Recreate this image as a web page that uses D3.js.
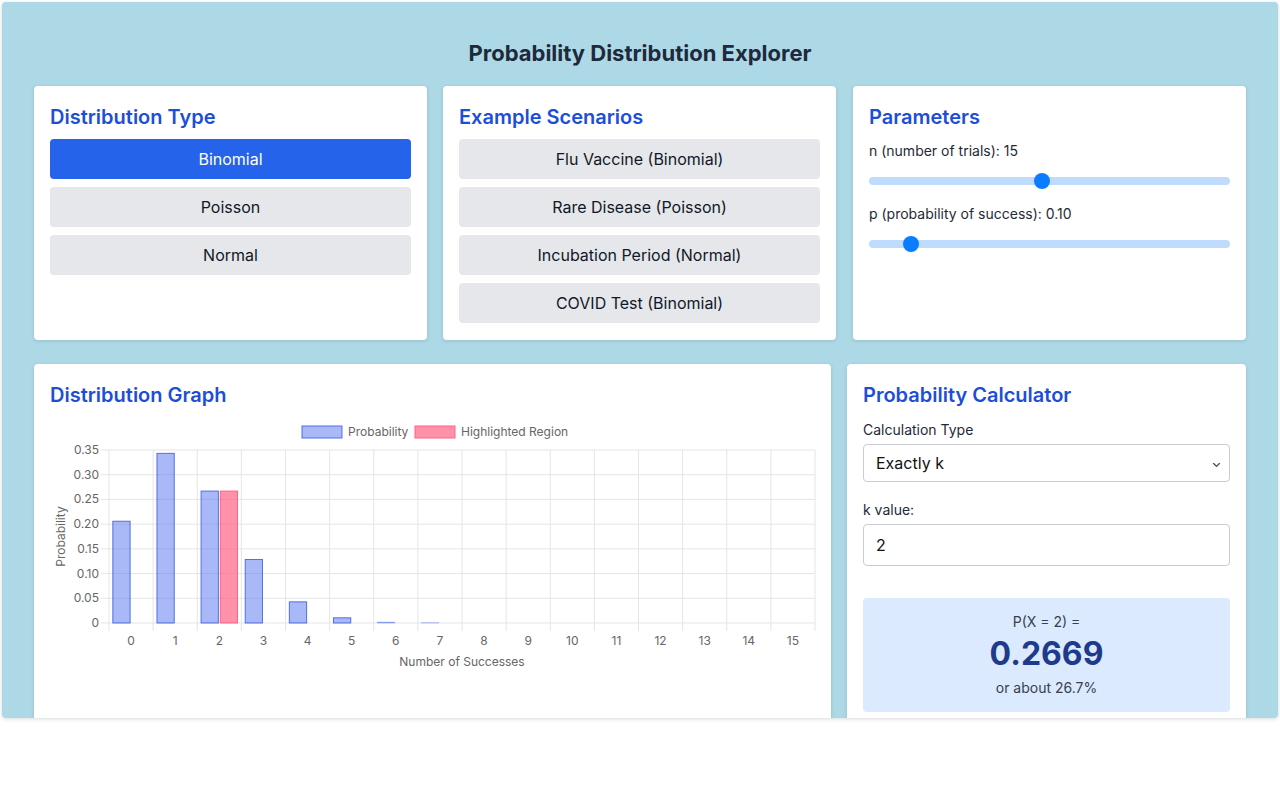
<!DOCTYPE html>
<html>
<head>
<meta charset="utf-8">
<script src="https://cdn.jsdelivr.net/npm/d3@7"></script>
<style>
  html, body { margin: 0; padding: 0; background: #fff; font-family: Inter, "Noto Sans", sans-serif; }
  .page { position: absolute; left: 2px; top: 2px; width: 1276px; height: 716px; background: #add8e6; overflow: hidden; border-radius: 4px; box-shadow: 0 1px 4px rgba(0,0,0,0.15); }
  h1 { position: absolute; left: 0; right: 0; top: 38px; margin: 0; text-align: center; font-size: 22px; font-weight: 700; color: #1e293b; }
  .card { position: absolute; background: #fff; border-radius: 4px; box-shadow: 0 1px 4px rgba(0,0,0,0.12); box-sizing: border-box; padding: 16px; }
  .card h2 { margin: 3px 0 10px; font-size: 20px; font-weight: 600; color: #1d4ed8; }
  .btn { height: 40px; line-height: 40px; text-align: center; background: #e5e7eb; border-radius: 4px; margin-bottom: 8px; font-size: 16px; color: #111827; }
  .btn.on { background: #2563eb; color: #fff; }
  .lbl { font-size: 14px; color: #1f2937; }
  .track { position: relative; height: 8px; background: #bfdbfe; border-radius: 4px; margin: 18px 0 20px; }
  .thumb { position: absolute; top: -4px; width: 16px; height: 16px; border-radius: 50%; background: #0a7cff; margin-left: -8px; }
  .field { height: 38px; border: 1px solid #c9ccd1; border-radius: 4px; box-sizing: border-box; padding: 0 12px; line-height: 36px; font-size: 16px; color: #111; position: relative; }
  .res { background: #dbeafe; border-radius: 4px; text-align: center; padding-top: 15px; height: 114px; box-sizing: border-box; }
</style>
</head>
<body>
<div class="page">
  <h1>Probability Distribution Explorer</h1>
  <div class="card" style="left:32px;top:84px;width:393px;height:254px">
    <h2>Distribution Type</h2>
    <div class="btn on">Binomial</div><div class="btn">Poisson</div><div class="btn">Normal</div>
  </div>
  <div class="card" style="left:441px;top:84px;width:393px;height:254px">
    <h2>Example Scenarios</h2>
    <div class="btn">Flu Vaccine (Binomial)</div><div class="btn">Rare Disease (Poisson)</div>
    <div class="btn">Incubation Period (Normal)</div><div class="btn">COVID Test (Binomial)</div>
  </div>
  <div class="card" style="left:851px;top:84px;width:393px;height:254px">
    <h2>Parameters</h2>
    <div class="lbl" style="margin-top:13px">n (number of trials): 15</div>
    <div class="track"><div class="thumb" style="left:48%"></div></div>
    <div class="lbl">p (probability of success): 0.10</div>
    <div class="track"><div class="thumb" style="left:11.5%"></div></div>
  </div>
  <div class="card" style="left:32px;top:362px;width:797px;height:400px">
    <h2>Distribution Graph</h2>
    <svg id="chart" width="770" height="270" style="position:absolute;left:16px;top:56px"></svg>
  </div>
  <div class="card" style="left:845px;top:362px;width:399px;height:400px">
    <h2>Probability Calculator</h2>
    <div class="lbl" style="margin:14px 0 6px">Calculation Type</div>
    <div class="field">Exactly k<span style="position:absolute;right:8px;top:0;font-size:12px">&#8964;</span></div>
    <div class="lbl" style="margin:19px 0 6px">k value:</div>
    <div class="field" style="height:42px;line-height:40px">2</div>
    <div style="height:32px"></div>
    <div class="res">
      <div style="font-size:14px;color:#374151">P(X = 2) =</div>
      <div style="font-size:32px;font-weight:700;color:#1e3a8a;margin:4px 0 6px">0.2669</div>
      <div style="font-size:14px;color:#374151">or about 26.7%</div>
    </div>
  </div>
</div>
<script>
const probs = [0.2059, 0.3432, 0.2669, 0.1285, 0.0428, 0.0105, 0.0019, 0.0003, 0, 0, 0, 0, 0, 0, 0, 0];
const highlight = [0, 0, 0.2669, 0, 0, 0, 0, 0, 0, 0, 0, 0, 0, 0, 0, 0];
const series = [
  {name: 'Probability', values: probs, fill: 'rgba(84,116,240,0.5)', stroke: 'rgba(70,100,225,0.9)'},
  {name: 'Highlighted Region', values: highlight, fill: 'rgba(255,99,132,0.7)', stroke: 'rgba(255,99,132,1)'},
];
const svg = d3.select('#chart');
const m = {left: 59, right: 5, top: 30, bottom: 67};
const W = 770, H = 270;
const x = d3.scaleBand().domain(d3.range(16)).range([m.left, W - m.right]);
const xs = d3.scaleBand().domain([0, 1]).range([0, x.bandwidth()]).paddingInner(0.1).paddingOuter(0.2);
const y = d3.scaleLinear().domain([0, 0.35]).range([H - m.bottom, m.top]);
const grid = '#e5e5e5', txt = '#666';
const ticks = d3.range(0, 0.351, 0.05);
svg.append('g').selectAll('line').data(ticks).join('line')
  .attr('x1', m.left - 8).attr('x2', W - m.right).attr('y1', d => y(d)).attr('y2', d => y(d)).attr('stroke', grid);
svg.append('g').selectAll('line').data(d3.range(17)).join('line')
  .attr('x1', d => m.left + d * x.step()).attr('x2', d => m.left + d * x.step())
  .attr('y1', m.top).attr('y2', H - m.bottom + 8).attr('stroke', grid);
svg.append('g').selectAll('text').data(ticks).join('text')
  .attr('x', m.left - 10).attr('y', d => y(d) + 4).attr('text-anchor', 'end')
  .attr('font-size', 12).attr('fill', txt).text(d => d === 0 ? '0' : d.toFixed(2));
svg.append('g').selectAll('text').data(d3.range(16)).join('text')
  .attr('x', d => x(d) + x.bandwidth() / 2).attr('y', H - m.bottom + 22).attr('text-anchor', 'middle')
  .attr('font-size', 12).attr('fill', txt).text(d => d);
series.forEach((s, i) => {
  svg.append('g').selectAll('rect').data(s.values.map((v, k) => [k, v]).filter(d => d[1] > 0)).join('rect')
    .attr('x', d => x(d[0]) + xs(i)).attr('width', xs.bandwidth())
    .attr('y', d => y(d[1])).attr('height', d => y(0) - y(d[1]))
    .attr('fill', s.fill).attr('stroke', s.stroke).attr('stroke-width', d => d[1] < 0.002 ? 0.3 : 1);
});
svg.append('text').attr('x', (m.left + W - m.right) / 2).attr('y', H - m.bottom + 43)
  .attr('text-anchor', 'middle').attr('font-size', 12).attr('fill', txt).text('Number of Successes');
svg.append('text').attr('transform', `translate(15,${(m.top + H - m.bottom) / 2}) rotate(-90)`)
  .attr('text-anchor', 'middle').attr('font-size', 12).attr('fill', txt).text('Probability');
const lg = svg.append('g');
[[252, 0], [365, 1]].forEach(([lx, i]) => {
  lg.append('rect').attr('x', lx).attr('y', 6).attr('width', 40).attr('height', 12)
    .attr('fill', series[i].fill).attr('stroke', series[i].stroke);
  lg.append('text').attr('x', lx + 46).attr('y', 16).attr('font-size', 12).attr('fill', txt).text(series[i].name);
});
</script>
</body>
</html>
